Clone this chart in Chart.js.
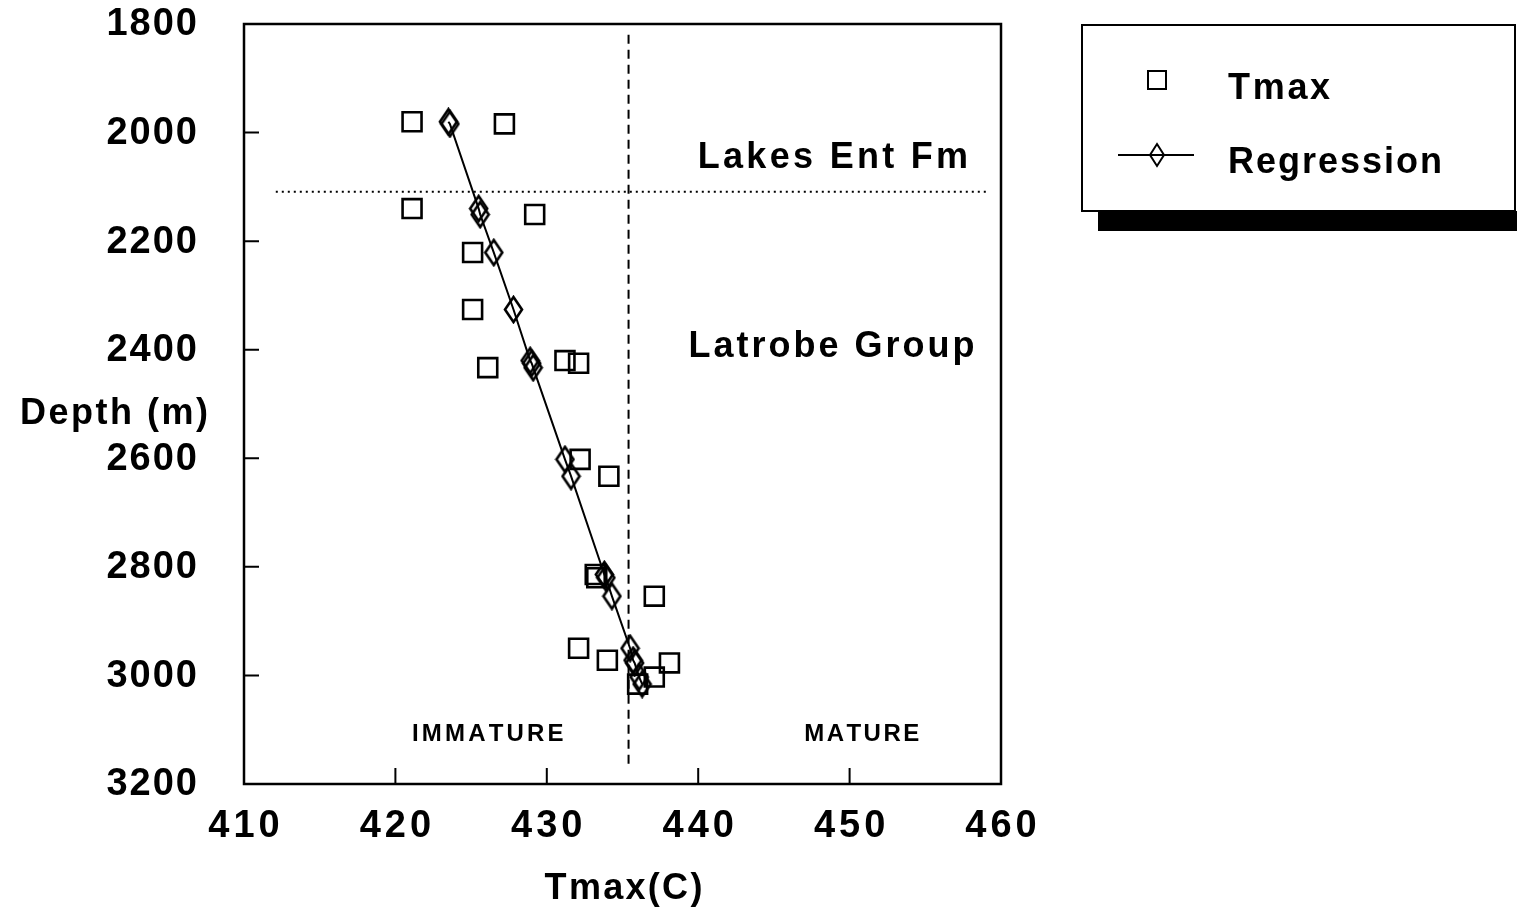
<!DOCTYPE html>
<html>
<head>
<meta charset="utf-8">
<script src="https://cdn.jsdelivr.net/npm/chart.js@4.4.1/dist/chart.umd.min.js"></script>
<style>
  html, body { margin: 0; padding: 0; background: #fff; }
  #wrap { width: 1517px; height: 913px; position: relative; }
</style>
</head>
<body>
<div id="wrap"><canvas id="c" width="1517" height="913"></canvas></div>
<script>
// ---- data ----
const tmaxT = [421.1, 427.2, 421.1, 429.2, 425.1, 425.1, 431.2, 432.1, 426.1, 432.2, 434.1, 433.2, 433.3, 437.1, 432.1, 434.0, 438.1, 437.1, 436.0];
const tmaxD = [1980, 1984, 2140, 2151, 2221, 2326, 2420, 2425, 2433, 2602, 2633, 2814, 2820, 2854, 2950, 2972, 2977, 3003, 3016];

const regT = [423.5, 423.6, 425.5, 425.6, 426.5, 427.8, 428.9, 429.0, 429.1, 431.2, 431.6, 433.8, 433.9, 434.3, 435.5, 435.7, 435.8, 436.1, 436.3];
const regD = [1980, 1984, 2140, 2151, 2221, 2326, 2420, 2425, 2433, 2602, 2633, 2814, 2820, 2854, 2950, 2972, 2977, 3003, 3016];

const formationBoundaryT = [412.1, 459.0];
const formationBoundaryD = [2109, 2109];
const maturityT = [435.4, 435.4];
const maturityD = [1820, 3163];

const xTicks = [410, 420, 430, 440, 450, 460];
const yTicks = [1800, 2000, 2200, 2400, 2600, 2800, 3000, 3200];

const seriesNames = ['Tmax', 'Regression'];
const xTitle = 'Tmax(C)';
const yTitle = 'Depth (m)';
const zoneTexts = ['Lakes Ent Fm', 'Latrobe Group', 'IMMATURE', 'MATURE'];
const zoneAnchorT = [448.9, 448.8, 426.1, 450.8];
const zoneAnchorD = [2045, 2394, 3106, 3106];

// ---- helpers ----
const FONT = '"Liberation Sans", Arial, Helvetica, sans-serif';
function spacedWidth(ctx, text, sp) {
  let w = 0;
  for (const ch of text) w += ctx.measureText(ch).width;
  return w + sp * (text.length - 1);
}
function drawSpaced(ctx, text, x, y, align, sp) {
  const w = spacedWidth(ctx, text, sp);
  let cx = align === 'center' ? x - w / 2 : (align === 'right' ? x - w : x);
  ctx.textAlign = 'left';
  for (const ch of text) {
    ctx.fillText(ch, cx, y);
    cx += ctx.measureText(ch).width + sp;
  }
}

function makeDiamond(w, h, lw) {
  const c = document.createElement('canvas');
  c.width = w + 4; c.height = h + 4;
  const g = c.getContext('2d');
  g.strokeStyle = '#000';
  g.lineWidth = lw;
  g.beginPath();
  g.moveTo(c.width / 2, 2);
  g.lineTo(c.width - 2, c.height / 2);
  g.lineTo(c.width / 2, c.height - 2);
  g.lineTo(2, c.height / 2);
  g.closePath();
  g.stroke();
  return c;
}
const diamondImg = makeDiamond(17, 25, 2.6);

const toPts = (xs, ys) => xs.map((v, i) => ({ x: v, y: ys[i] }));

const decorPlugin = {
  id: 'decor',
  beforeDatasetsDraw(chart) {
    const ctx = chart.ctx;
    const a = chart.chartArea;
    const xs = chart.scales.x, ys = chart.scales.y;
    ctx.save();
    // frame
    ctx.strokeStyle = '#000';
    ctx.lineWidth = 2.5;
    ctx.strokeRect(a.left, a.top, a.right - a.left, a.bottom - a.top);
    // inward ticks
    ctx.lineWidth = 2;
    ctx.beginPath();
    xTicks.forEach(t => {
      const px = xs.getPixelForValue(t);
      ctx.moveTo(px, a.bottom); ctx.lineTo(px, a.bottom - 16);
    });
    yTicks.forEach(t => {
      const py = ys.getPixelForValue(t);
      ctx.moveTo(a.left, py); ctx.lineTo(a.left + 15, py);
    });
    ctx.stroke();

    // tick labels
    ctx.fillStyle = '#000';
    ctx.textBaseline = 'middle';
    ctx.font = 'bold 38px ' + FONT;
    yTicks.forEach(t => {
      drawSpaced(ctx, String(t), a.left - 47, ys.getPixelForValue(t) + 1, 'right', 2);
    });
    xTicks.forEach(t => {
      drawSpaced(ctx, String(t), xs.getPixelForValue(t), a.bottom + 43, 'center', 4);
    });
    // axis titles
    ctx.font = 'bold 36px ' + FONT;
    drawSpaced(ctx, yTitle, 114, 414, 'center', 2.5);
    drawSpaced(ctx, xTitle, (a.left + a.right) / 2 + 1, 889, 'center', 2.3);

    // zone texts
    zoneTexts.forEach((txt, i) => {
      const small = i >= 2;
      ctx.font = 'bold ' + (small ? 24 : 36) + 'px ' + FONT;
      const sp = i === 0 ? 3.3 : i === 1 ? 3 : i === 2 ? 3.2 : 2.5;
      drawSpaced(ctx, txt, xs.getPixelForValue(zoneAnchorT[i]), ys.getPixelForValue(zoneAnchorD[i]) + 1, 'center', sp);
    });
    ctx.restore();
  },
  afterDraw(chart) {
    const ctx = chart.ctx;
    ctx.save();
    // legend with drop shadow
    const L = 1082, T = 25, R = 1515, B = 211;
    ctx.fillStyle = '#000';
    ctx.fillRect(1098, B, 1517 - 1098, 20);
    ctx.fillStyle = '#fff';
    ctx.fillRect(L, T, R - L, B - T);
    ctx.strokeStyle = '#000';
    ctx.lineWidth = 2;
    ctx.strokeRect(L, T, R - L, B - T);
    // Tmax marker
    ctx.lineWidth = 2;
    ctx.strokeRect(1148, 71, 18, 18);
    // Regression marker
    ctx.beginPath();
    ctx.moveTo(1118, 155); ctx.lineTo(1194, 155);
    ctx.stroke();
    ctx.drawImage(makeDiamond(14, 22, 2), 1157 - 9, 155 - 13);
    ctx.fillStyle = '#000';
    ctx.textBaseline = 'middle';
    ctx.font = 'bold 36px ' + FONT;
    drawSpaced(ctx, chart.data.datasets[0].label, 1228, 89, 'left', 2.7);
    drawSpaced(ctx, chart.data.datasets[1].label, 1228, 163, 'left', 2);
    ctx.restore();
  }
};

new Chart(document.getElementById('c'), {
  type: 'scatter',
  data: {
    datasets: [
      {
        label: seriesNames[0],
        data: toPts(tmaxT, tmaxD),
        pointStyle: 'rect',
        pointRadius: 13.4,
        pointHoverRadius: 13.4,
        borderColor: '#000',
        backgroundColor: 'rgba(0,0,0,0)',
        pointBorderWidth: 2.6,
        showLine: false
      },
      {
        label: seriesNames[1],
        data: toPts(regT, regD),
        pointStyle: diamondImg,
        borderColor: '#000',
        borderWidth: 2,
        showLine: true,
        tension: 0
      },
      {
        label: 'boundary',
        data: toPts(formationBoundaryT, formationBoundaryD),
        showLine: true,
        borderColor: '#000',
        borderWidth: 2,
        borderDash: [2, 4],
        pointRadius: 0
      },
      {
        label: 'maturity',
        data: toPts(maturityT, maturityD),
        showLine: true,
        borderColor: '#000',
        borderWidth: 2,
        borderDash: [9, 6],
        pointRadius: 0
      }
    ]
  },
  options: {
    responsive: false,
    animation: false,
    events: [],
    layout: { padding: { left: 244, top: 24, right: 516, bottom: 129 } },
    plugins: { legend: { display: false }, tooltip: { enabled: false } },
    scales: {
      x: {
        type: 'linear', min: 410, max: 460,
        grid: { display: false, drawTicks: false },
        border: { display: false },
        ticks: { display: false },
        afterFit(s) { s.height = 0; }
      },
      y: {
        type: 'linear', min: 1800, max: 3200, reverse: true,
        grid: { display: false, drawTicks: false },
        border: { display: false },
        ticks: { display: false },
        afterFit(s) { s.width = 0; }
      }
    }
  },
  plugins: [decorPlugin]
});
</script>
</body>
</html>
